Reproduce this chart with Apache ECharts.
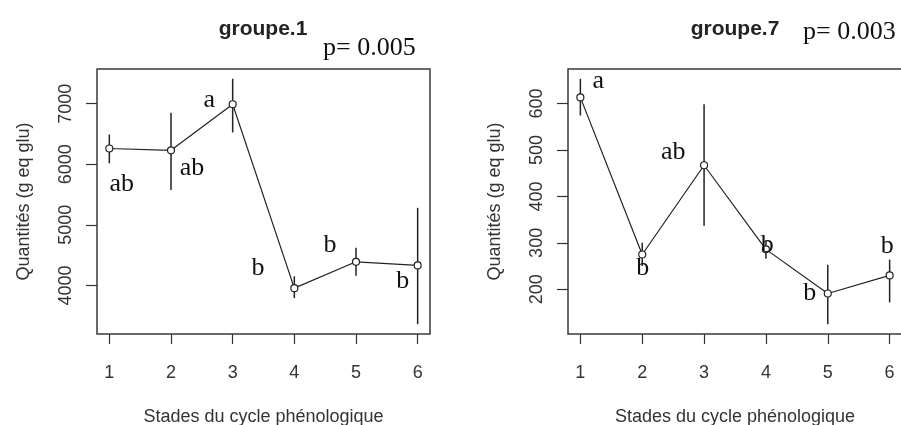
<!DOCTYPE html>
<html>
<head>
<meta charset="utf-8">
<script src="https://cdn.jsdelivr.net/npm/echarts@6/dist/echarts.min.js"></script>
<style>
  html, body { margin: 0; padding: 0; background: #fff; }
  #chart { width: 901px; height: 425px; }
</style>
</head>
<body>
<div id="chart"></div>
<script>
// Phenological stages on the x axis
const stages = [1, 2, 3, 4, 5, 6];

// groupe.1: mean quantity with lower / upper error-bar ends (g eq glu)
const g1Mean = [6260, 6230, 6990, 3955, 4390, 4330];
const g1Low  = [6015, 5575, 6525, 3790, 4160, 3360];
const g1High = [6490, 6850, 7410, 4150, 4620, 5280];
const g1Letters = ['ab', 'ab', 'a', 'b', 'b', 'b'];
const g1LetterX = [1.2, 2.34, 2.62, 3.41, 4.58, 5.76];
const g1LetterY = [5672, 5935, 7050, 4279, 4672, 4066];
const g1Ticks = [4000, 5000, 6000, 7000];
const g1P = 'p= 0.005';

// groupe.7
const g7Mean = [613, 275, 467, 286, 191, 230];
const g7Low  = [574, 250, 337, 266, 125, 172];
const g7High = [653, 300, 598, 305, 253, 264];
const g7Letters = ['a', 'b', 'ab', 'b', 'b', 'b'];
const g7LetterX = [1.29, 2.01, 2.5, 4.02, 4.71, 5.96];
const g7LetterY = [649, 245, 495, 296, 191, 292];
const g7Ticks = [200, 300, 400, 500, 600];
const g7P = 'p= 0.003';

const xLabel = 'Stades du cycle phénologique';
const yLabel = 'Quantités (g eq glu)';

const SANS = '"Liberation Sans", Arial, sans-serif';
const SERIF = '"Liberation Serif", "Times New Roman", serif';
const INK = '#222';

// data range padded by 4% on each side
function padded(lo, hi) {
  const a = Math.min.apply(null, lo), b = Math.max.apply(null, hi);
  const d = (b - a) * 0.04;
  return [a - d, b + d];
}

const grids = [
  { left: 97, top: 69, width: 333, height: 265 },
  { left: 568, top: 69, width: 334, height: 265 }
];

const plain = v => String(v);

function xAxisFor(i) {
  return {
    type: 'value', gridIndex: i, min: 0.8, max: 6.2,
    axisLine: { show: false },
    axisTick: { show: true, length: 10, customValues: stages, lineStyle: { color: '#333', width: 1.2 } },
    axisLabel: { customValues: stages, formatter: plain, margin: 30, fontSize: 18, fontFamily: SANS, color: '#333' },
    splitLine: { show: false },
    name: xLabel, nameLocation: 'middle', nameGap: 74,
    nameTextStyle: { fontSize: 18, fontFamily: SANS, color: '#333' }
  };
}

function yAxisFor(i, lo, hi, ticks) {
  const r = padded(lo, hi);
  return {
    type: 'value', gridIndex: i, min: r[0], max: r[1],
    axisLine: { show: false },
    axisTick: { show: true, length: 11, customValues: ticks, lineStyle: { color: '#333', width: 1.2 } },
    axisLabel: { customValues: ticks, formatter: plain, rotate: 90, margin: 22, fontSize: 18, fontFamily: SANS, color: '#333' },
    splitLine: { show: false },
    name: yLabel, nameLocation: 'middle', nameGap: 64,
    nameTextStyle: { fontSize: 18, fontFamily: SANS, color: '#333' }
  };
}

function meanSeries(i, mean) {
  return {
    type: 'line', xAxisIndex: i, yAxisIndex: i, z: 4,
    data: stages.map((s, k) => [s, mean[k]]),
    symbol: 'circle', symbolSize: 7,
    itemStyle: { color: '#fff', borderColor: INK, borderWidth: 1.2 },
    lineStyle: { color: INK, width: 1.2 },
    animation: false
  };
}

function errorSeries(i, lo, hi) {
  return {
    type: 'custom', xAxisIndex: i, yAxisIndex: i, z: 3,
    data: stages.map((s, k) => [s, lo[k], hi[k]]),
    renderItem: function (params, api) {
      const a = api.coord([api.value(0), api.value(1)]);
      const b = api.coord([api.value(0), api.value(2)]);
      return {
        type: 'line',
        shape: { x1: a[0], y1: a[1], x2: b[0], y2: b[1] },
        style: { stroke: INK, lineWidth: 1.5 }
      };
    },
    animation: false
  };
}

function letterSeries(i, xs, ys, letters) {
  return {
    type: 'custom', xAxisIndex: i, yAxisIndex: i, z: 5,
    data: xs.map((x, k) => [x, ys[k], letters[k]]),
    renderItem: function (params, api) {
      const p = api.coord([api.value(0), api.value(1)]);
      return {
        type: 'text', x: p[0], y: p[1],
        style: {
          text: letters[params.dataIndex], fill: '#111',
          font: '26px ' + SERIF, textAlign: 'center', textVerticalAlign: 'middle'
        }
      };
    },
    animation: false
  };
}

const chart = echarts.init(document.getElementById('chart'), null, { renderer: 'canvas' });

chart.setOption({
  backgroundColor: '#fff',
  animation: false,
  grid: grids.map(g => Object.assign({
    show: true, borderColor: '#3a3a3a', borderWidth: 1.5,
    backgroundColor: 'transparent', containLabel: false, outerBoundsMode: 'none'
  }, g)),
  xAxis: [xAxisFor(0), xAxisFor(1)],
  yAxis: [yAxisFor(0, g1Low, g1High, g1Ticks), yAxisFor(1, g7Low, g7High, g7Ticks)],
  series: [
    errorSeries(0, g1Low, g1High), meanSeries(0, g1Mean), letterSeries(0, g1LetterX, g1LetterY, g1Letters),
    errorSeries(1, g7Low, g7High), meanSeries(1, g7Mean), letterSeries(1, g7LetterX, g7LetterY, g7Letters)
  ],
  graphic: [
    { type: 'text', x: 263, y: 29, style: { text: 'groupe.1', font: 'bold 21px ' + SANS, fill: '#222', textAlign: 'center', textVerticalAlign: 'middle' } },
    { type: 'text', x: 735, y: 29, style: { text: 'groupe.7', font: 'bold 21px ' + SANS, fill: '#222', textAlign: 'center', textVerticalAlign: 'middle' } },
    { type: 'text', x: 323, y: 48, style: { text: g1P, font: '26px ' + SERIF, fill: '#111', textAlign: 'left', textVerticalAlign: 'middle' } },
    { type: 'text', x: 803, y: 32, style: { text: g7P, font: '26px ' + SERIF, fill: '#111', textAlign: 'left', textVerticalAlign: 'middle' } }
  ]
});
</script>
</body>
</html>
